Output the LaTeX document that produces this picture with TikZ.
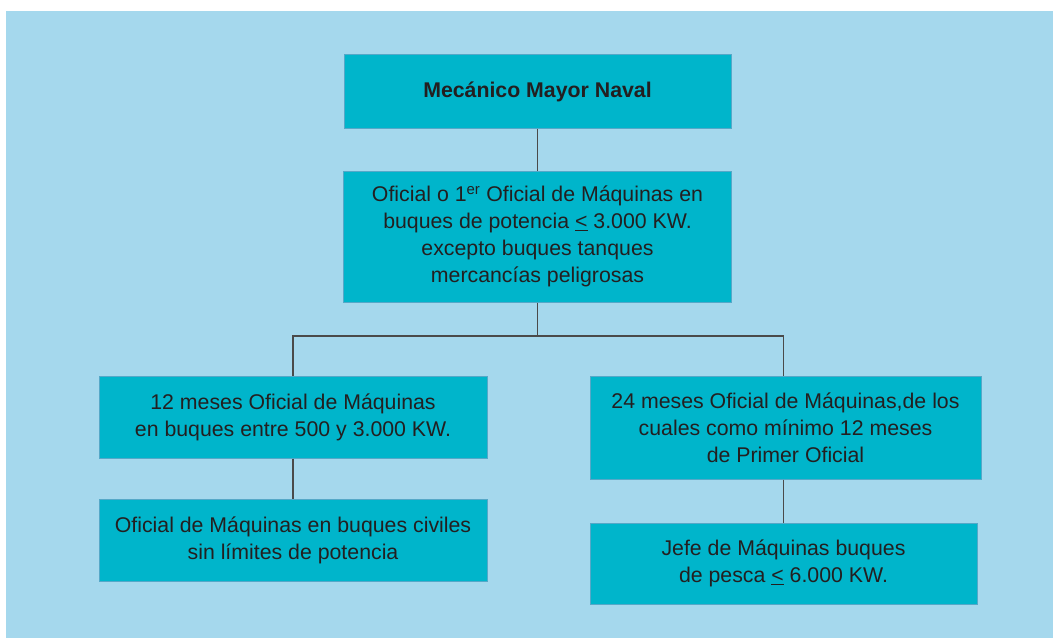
\documentclass[tikz,border=0pt]{standalone}
\usepackage{fontspec}
\setmainfont{Liberation Sans}
\definecolor{bgblue}{HTML}{A5D8ED}
\definecolor{boxfill}{HTML}{00B5CB}
\definecolor{boxline}{HTML}{55A8C8}
\definecolor{txt}{HTML}{231F20}
\definecolor{conn}{HTML}{4A4A4A}
\begin{document}
\begin{tikzpicture}[x=1pt,y=-1pt,
  box/.style={draw=boxline, line width=1pt, fill=boxfill, text=txt,
    rectangle, inner sep=0pt, align=center,
    font=\fontsize{21.3}{26.8}\selectfont},
  link/.style={draw=conn, line width=1.2pt}]
\useasboundingbox (0,0) rectangle (1053,638);
\fill[bgblue] (6,11) rectangle (1053,638);
\node[box, minimum width=387pt, minimum height=74pt] (top) at (537.5,91.5)
  {\textbf{Mecánico Mayor Naval}};
\node[box, minimum width=388pt, minimum height=131pt] (mid) at (537.5,236.5)
  {Oficial o 1\textsuperscript{er} Oficial de Máquinas en\\
   buques de potencia \underline{<} 3.000 KW.\\
   excepto buques tanques\\
   mercancías peligrosas};
\node[box, minimum width=388pt, minimum height=82pt] (l1) at (293,417)
  {12 meses Oficial de Máquinas\\ en buques entre 500 y 3.000 KW.};
\node[box, minimum width=388pt, minimum height=82pt] (l2) at (293,540)
  {Oficial de Máquinas en buques civiles\\ sin límites de potencia};
\node[box, minimum width=391pt, minimum height=103pt] (r1) at (785.5,427.5)
  {24 meses Oficial de Máquinas,de los\\ cuales como mínimo 12 meses\\ de Primer Oficial};
\node[box, minimum width=387pt, minimum height=81pt] (r2) at (783.5,563.5)
  {Jefe de Máquinas buques\\ de pesca \underline{<} 6.000 KW.};
\coordinate (j) at (537.5,336);
\draw[link] (top.south) -- (mid.north);
\draw[link] (mid.south) -- (j);
\draw[link] (l1.north) |- (j) -| (r2.north |- r1.north);
\draw[link] (l1.south) -- (l2.north);
\draw[link] (r2.north |- r1.south) -- (r2.north);
\end{tikzpicture}
\end{document}
